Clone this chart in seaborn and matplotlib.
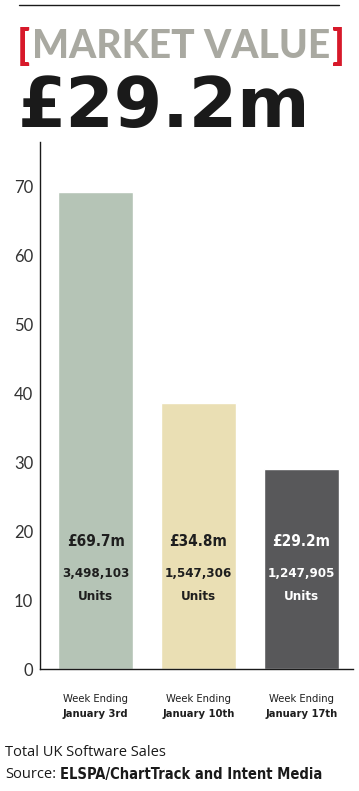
import matplotlib
matplotlib.use("Agg")
import matplotlib.pyplot as plt
import matplotlib.transforms as mtransforms
import seaborn as sns
import pandas as pd

# chart values
weeks = ["January 3rd", "January 10th", "January 17th"]
bar_heights = [69.1, 38.5, 29.0]
value_labels = ["£69.7m", "£34.8m", "£29.2m"]
unit_labels = ["3,498,103", "1,547,306", "1,247,905"]
bar_colors = ["#b5c4b6", "#eadfb4", "#58585a"]
label_colors = ["#1e1e1e", "#1e1e1e", "#ffffff"]
y_ticks = [0, 10, 20, 30, 40, 50, 60, 70]

df = pd.DataFrame({"week": weeks, "value": bar_heights})

sns.set_style("white")
plt.rcParams["font.family"] = ["DejaVu Sans"]
narrow = dict(family="DejaVu Sans", fontstretch="condensed")

W, H = 359, 791
fig = plt.figure(figsize=(W / 100, H / 100), dpi=100)
ax = fig.add_axes([40 / W, 1 - 669 / H, (353 - 40) / W, (669 - 142) / H])

sns.barplot(data=df, x="week", y="value", hue="week", palette=bar_colors,
            legend=False, width=0.73, saturation=1, ax=ax)
ax.set_xlim(-0.54, 2.46)
ax.set_ylim(0, 76.4)

# axes styling
for s in ["top", "right"]:
    ax.spines[s].set_visible(False)
for s in ["left", "bottom"]:
    ax.spines[s].set_color("#1a1a1a")
    ax.spines[s].set_linewidth(1.0)
ax.set_yticks(y_ticks)
ax.set_yticklabels([str(t) for t in y_ticks], family="Lato", fontsize=12, color="#333333")
ax.tick_params(axis="y", direction="in", length=6, width=1, color="#1a1a1a", pad=5)
ax.set_xticks([0, 1, 2])
ax.set_xticklabels([])
ax.tick_params(axis="x", length=0)
ax.set_xticks([0.5, 1.5, 2.5], minor=True)
ax.tick_params(axis="x", which="minor", direction="in", length=8, width=1, color="#1a1a1a")
ax.set_xlabel("")
ax.set_ylabel("")

# labels inside bars
for i in range(len(weeks)):
    ax.text(i, 18.5, value_labels[i], ha="center", va="center", fontweight="bold",
            fontsize=11, color=label_colors[i], **narrow)
    ax.text(i, 13.8, unit_labels[i], ha="center", va="center", fontweight="bold",
            fontsize=9.5, color=label_colors[i], **narrow)
    ax.text(i, 10.5, "Units", ha="center", va="center", fontweight="bold",
            fontsize=9.5, color=label_colors[i], **narrow)

# category labels below axis
trans = mtransforms.blended_transform_factory(ax.transData, fig.transFigure)
for i, w in enumerate(weeks):
    ax.text(i, 1 - 699 / H, "Week Ending", ha="center", va="center",
            fontsize=8, color="#1e1e1e", transform=trans, **narrow)
    ax.text(i, 1 - 714 / H, w, ha="center", va="center", fontweight="bold",
            fontsize=8, color="#1e1e1e", transform=trans, **narrow)

# header
fig.add_artist(plt.Line2D([19 / W, 339 / W], [1 - 5 / H, 1 - 5 / H], color="#1a1a1a", lw=1))
fig.text(17 / W, 1 - 46 / H, "[", ha="left", va="center", family="Lato", fontweight="black",
         fontsize=30, color="#d7192a")
fig.text(345 / W, 1 - 46 / H, "]", ha="right", va="center", family="Lato", fontweight="black",
         fontsize=30, color="#d7192a")
fig.text(181 / W, 1 - 46 / H, "MARKET VALUE", ha="center", va="center", family="Lato",
         fontweight="black", fontsize=28, color="#a9a9a1")
fig.text(18 / W, 1 - 108 / H, "£29.2m", ha="left", va="center", family="DejaVu Sans",
         fontweight="bold", fontsize=50, color="#1a1a1a")

# footer
fig.text(5 / W, 1 - 753 / H, "Total UK Software Sales", ha="left", va="center",
         family="Open Sans", fontsize=10.5, color="#1a1a1a")
src = fig.text(5 / W, 1 - 775 / H, "Source:", ha="left", va="center",
               family="Open Sans", fontsize=10.5, color="#1a1a1a")
ax.annotate("ELSPA/ChartTrack and Intent Media", xy=(1, 0.5), xycoords=src,
            xytext=(3, 0), textcoords="offset points", ha="left", va="center",
            fontweight="bold", fontsize=10.5, color="#1a1a1a", annotation_clip=False,
            **narrow)

fig.savefig("out.png", dpi=100)
